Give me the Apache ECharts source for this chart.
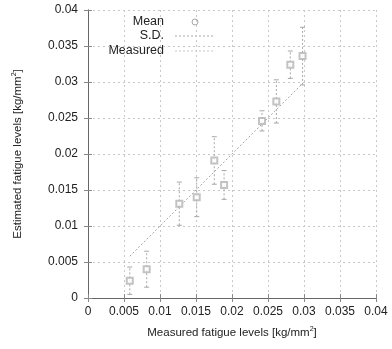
<!DOCTYPE html>
<html>
<head>
<meta charset="utf-8">
<script src="https://cdn.jsdelivr.net/npm/echarts@6/dist/echarts.min.js"></script>
<style>
  html, body { margin: 0; padding: 0; background: #fff; }
  #chart { width: 392px; height: 349px; }
</style>
</head>
<body>
<div id="chart"></div>
<script>
// measured fatigue level for each subject (x) and estimated mean / S.D. (y)
const measured = [0.0058, 0.00815, 0.01268, 0.0151, 0.01754, 0.0189, 0.02417, 0.02616, 0.0281, 0.0298];
const estMean = [0.0024, 0.0040, 0.0131, 0.0140, 0.0191, 0.0157, 0.0246, 0.0273, 0.0324, 0.0336];
const estSD = [0.0019, 0.0025, 0.0030, 0.0027, 0.0033, 0.0020, 0.0014, 0.0030, 0.0019, 0.0040];

const GRAY = '#a8a8a8';
const FONT = 'Liberation Sans, Arial, sans-serif';

const meanData = measured.map((x, i) => [x, estMean[i]]);
const sdData = measured.map((x, i) => [x, estMean[i] - estSD[i], estMean[i] + estSD[i]]);
const lineData = measured.map((x) => [x, x]);

const axisCommon = {
  type: 'value',
  min: 0,
  max: 0.04,
  interval: 0.005,
  axisLine: { show: true, lineStyle: { color: '#666', width: 1 } },
  axisTick: { show: true, inside: true, length: 4, lineStyle: { color: '#888' } },
  splitLine: { show: true, lineStyle: { color: '#c8c8c8', type: [2, 3] } },
};

const nameRich = {
  t: { fontSize: 11.5, fontFamily: FONT, color: '#222' },
  s: { fontSize: 7, fontFamily: FONT, color: '#222', verticalAlign: 'top', padding: [0, 0, 6, 0] },
};

const chart = echarts.init(document.getElementById('chart'));
chart.setOption({
  animation: false,
  grid: { left: 88, right: 16, top: 10, bottom: 51 },
  xAxis: [
    {
      ...axisCommon,
      position: 'bottom',
      axisLabel: { color: '#222', fontSize: 12, fontFamily: FONT, margin: 8,
        formatter: (v) => String(+v.toFixed(3)) },
      name: '{t|Measured fatigue levels [kg/mm}{s|2}{t|]}',
      nameLocation: 'middle',
      nameGap: 28,
      nameTextStyle: { rich: nameRich },
    },
    { ...axisCommon, position: 'top', axisLabel: { show: false }, splitLine: { show: false } },
  ],
  yAxis: [
    {
      ...axisCommon,
      position: 'left',
      axisLabel: { color: '#222', fontSize: 12, fontFamily: FONT, margin: 10,
        formatter: (v) => String(+v.toFixed(3)) },
      name: '{t|Estimated fatigue levels [kg/mm}{s|2}{t|]}',
      nameLocation: 'middle',
      nameGap: 64,
      nameTextStyle: { rich: nameRich },
    },
    { ...axisCommon, position: 'right', axisLabel: { show: false }, splitLine: { show: false } },
  ],
  series: [
    {
      name: 'Measured',
      type: 'line',
      data: lineData,
      symbol: 'none',
      lineStyle: { color: GRAY, width: 1, type: [2, 2] },
      z: 2,
    },
    {
      name: 'S.D.',
      type: 'custom',
      data: sdData,
      z: 3,
      renderItem: (params, api) => {
        const x = api.value(0);
        const lo = api.coord([x, api.value(1)]);
        const hi = api.coord([x, api.value(2)]);
        const cap = 2.5;
        return {
          type: 'group',
          children: [
            { type: 'line', shape: { x1: lo[0], y1: lo[1], x2: hi[0], y2: hi[1] }, style: { stroke: GRAY, lineWidth: 1, lineDash: [2, 2] } },
            { type: 'line', shape: { x1: lo[0] - cap, y1: lo[1], x2: lo[0] + cap, y2: lo[1] }, style: { stroke: GRAY, lineWidth: 1 } },
            { type: 'line', shape: { x1: hi[0] - cap, y1: hi[1], x2: hi[0] + cap, y2: hi[1] }, style: { stroke: GRAY, lineWidth: 1 } },
          ],
        };
      },
    },
    {
      name: 'Mean',
      type: 'scatter',
      data: meanData,
      symbol: 'emptyRect',
      symbolSize: 6,
      itemStyle: { color: '#b4b4b4', borderWidth: 1 },
      z: 4,
    },
  ],
  graphic: [
    { type: 'text', x: 164, y: 15, style: { text: 'Mean', font: '12.5px ' + FONT, fill: '#222', align: 'right' } },
    { type: 'text', x: 164, y: 29, style: { text: 'S.D.', font: '12.5px ' + FONT, fill: '#222', align: 'right' } },
    { type: 'text', x: 164, y: 44, style: { text: 'Measured', font: '12.5px ' + FONT, fill: '#222', align: 'right' } },
    { type: 'circle', shape: { cx: 195, cy: 22, r: 3 }, style: { fill: 'none', stroke: GRAY, lineWidth: 1 } },
    { type: 'line', shape: { x1: 175, y1: 36, x2: 215, y2: 36 }, style: { stroke: GRAY, lineWidth: 1, lineDash: [2, 2] } },
    { type: 'line', shape: { x1: 175, y1: 51, x2: 215, y2: 51 }, style: { stroke: '#c8c8c8', lineWidth: 1, lineDash: [2, 2] } },
  ],
});
</script>
</body>
</html>
